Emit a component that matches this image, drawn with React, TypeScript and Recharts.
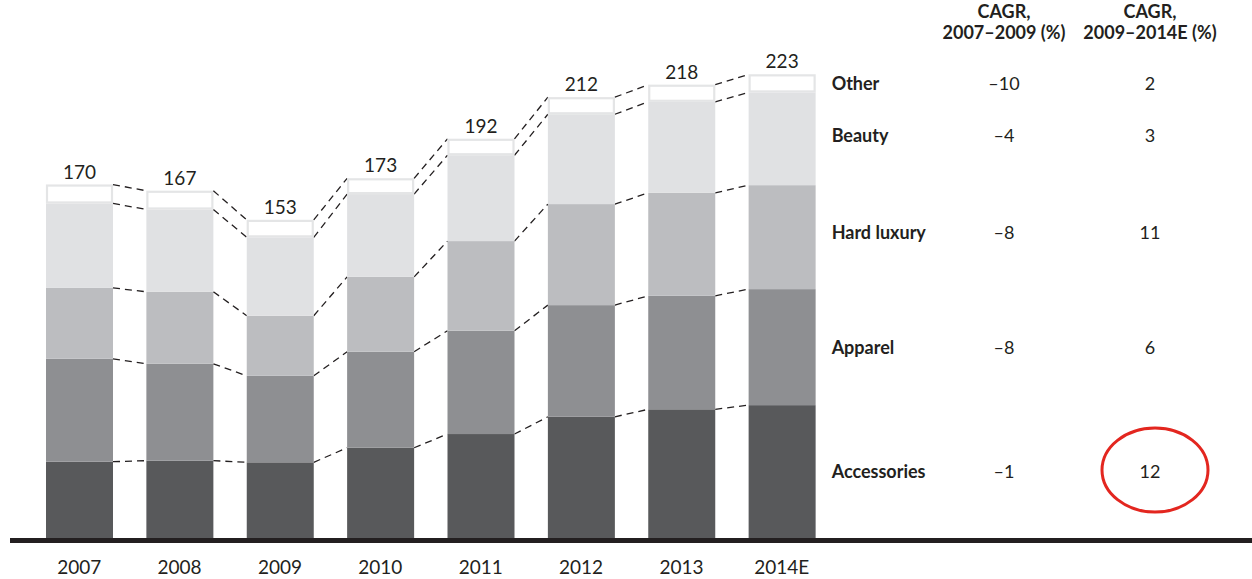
import { BarChart, Bar, XAxis, YAxis, LabelList } from 'recharts'

const years = ['2007', '2008', '2009', '2010', '2011', '2012', '2013', '2014E']
const accessories = [36.7, 37.2, 36.4, 43.4, 50.0, 58.3, 61.9, 63.9]
const apparel = [49.5, 46.6, 41.6, 46.2, 49.7, 53.7, 54.6, 55.8]
const hardLuxury = [34.1, 34.6, 28.9, 36.0, 43.1, 48.6, 49.5, 50.0]
const beauty = [40.6, 39.6, 37.7, 39.8, 41.3, 43.2, 43.8, 44.6]
const other = [9.1, 9.0, 8.4, 7.6, 7.9, 8.2, 8.2, 8.7]
const totals = [170, 167, 153, 173, 192, 212, 218, 223]

const segmentNames = ['Accessories', 'Apparel', 'Hard luxury', 'Beauty', 'Other']
const cagr0709 = ['–1', '–8', '–8', '–4', '–10']
const cagr0914 = ['12', '6', '11', '3', '2']

const keys = ['acc', 'app', 'hl', 'beauty', 'other']
const fills = ['#58595b', '#8e8f92', '#bcbdc0', '#e0e1e3', '#ffffff']
// small nudges so the row labels sit where the original put them
const labelNudge = [-1, 0, -5, -4, 0]

const rows = years.map((year, i) => ({
  year,
  acc: accessories[i],
  app: apparel[i],
  hl: hardLuxury[i],
  beauty: beauty[i],
  other: other[i],
  total: totals[i],
}))

const W = 1252
const H = 579
const margin = { top: 39, right: 420, left: 29, bottom: 0 }
const STEP = (W - margin.left - margin.right) / years.length
const FONT = 'Lato, "Noto Sans", sans-serif'
const INK = '#231f20'

function cumTop(row: any, idx: number) {
  let s = 0
  for (let k = 0; k <= idx; k++) s += row[keys[k]]
  return s
}

function segmentShape(idx: number) {
  return (props: any) => {
    const { x, y, width, height, payload } = props
    const i = years.indexOf(payload?.year)
    const row = rows[i]
    const next = rows[i + 1]
    const ppu = height / row[keys[idx]]
    let link = null
    if (next) {
      const dy = (cumTop(next, idx) - cumTop(row, idx)) * ppu
      link = (
        <line
          x1={x + width}
          y1={y}
          x2={x + STEP}
          y2={y - dy}
          stroke={INK}
          strokeWidth={1.3}
          strokeDasharray="7 5"
        />
      )
    }
    const isOther = keys[idx] === 'other'
    return (
      <g>
        {isOther ? (
          <rect x={x + 1} y={y + 1} width={width - 2} height={height - 2} fill="#fff" stroke="#e4e5e6" strokeWidth={2.2} />
        ) : (
          <rect x={x} y={y} width={width} height={height} fill={fills[idx]} />
        )}
        {link}
      </g>
    )
  }
}

function rowLabel(idx: number) {
  return (p: any) => {
    if (p.value !== '2014E') return null
    const vb = p.viewBox || {}
    const x = p.x ?? vb.x
    const y = p.y ?? vb.y
    const width = p.width ?? vb.width
    const height = p.height ?? vb.height
    const cy = y + height / 2 + labelNudge[idx]
    return (
      <g fontFamily={FONT}>
        <text x={x + width + 16} y={cy} dominantBaseline="central" fontSize={18} fontWeight={700} fill={INK}>
          {segmentNames[idx]}
        </text>
        <text x={1004} y={cy} dominantBaseline="central" textAnchor="middle" fontSize={18} fill={INK}>
          {cagr0709[idx]}
        </text>
        <text x={1150} y={cy} dominantBaseline="central" textAnchor="middle" fontSize={18} fill={INK}>
          {cagr0914[idx]}
        </text>
        {keys[idx] === 'acc' && (
          <ellipse cx={1155} cy={470} rx={53} ry={42} fill="none" stroke="#e3261f" strokeWidth={3} />
        )}
      </g>
    )
  }
}

export default function App() {
  return (
    <div style={{ position: 'absolute', left: 0, top: 0, width: W, height: H, background: '#fff', fontFamily: FONT }}>
      <BarChart width={W} height={H} data={rows} margin={margin}>
        <XAxis
          dataKey="year"
          axisLine={false}
          tickLine={false}
          height={41}
          tickMargin={17}
          interval={0}
          tick={{ fontSize: 19, fill: INK, fontFamily: FONT }}
        />
        <YAxis hide domain={[0, 240]} />
        {keys.map((k, idx) => (
          <Bar
            key={k}
            dataKey={k}
            stackId="a"
            barSize={67}
            fill={fills[idx]}
            shape={segmentShape(idx)}
            isAnimationActive={false}
          >
            <LabelList dataKey="year" content={rowLabel(idx)} />
            {k === 'other' && (
              <LabelList dataKey="total" position="top" offset={6} fontSize={19} fill={INK} fontFamily={FONT} />
            )}
          </Bar>
        ))}
      </BarChart>
      <div style={{ position: 'absolute', left: 10, top: 538, width: 1242, height: 5, background: INK }} />
      {[
        { cx: 1004, line2: '2007–2009 (%)' },
        { cx: 1150, line2: '2009–2014E (%)' },
      ].map((h) => (
        <div
          key={h.cx}
          style={{
            position: 'absolute',
            left: h.cx - 90,
            top: 1,
            width: 180,
            textAlign: 'center',
            fontWeight: 700,
            fontSize: 18,
            lineHeight: '21px',
            color: INK,
          }}
        >
          <div>CAGR,</div>
          <div>{h.line2}</div>
        </div>
      ))}
    </div>
  )
}
